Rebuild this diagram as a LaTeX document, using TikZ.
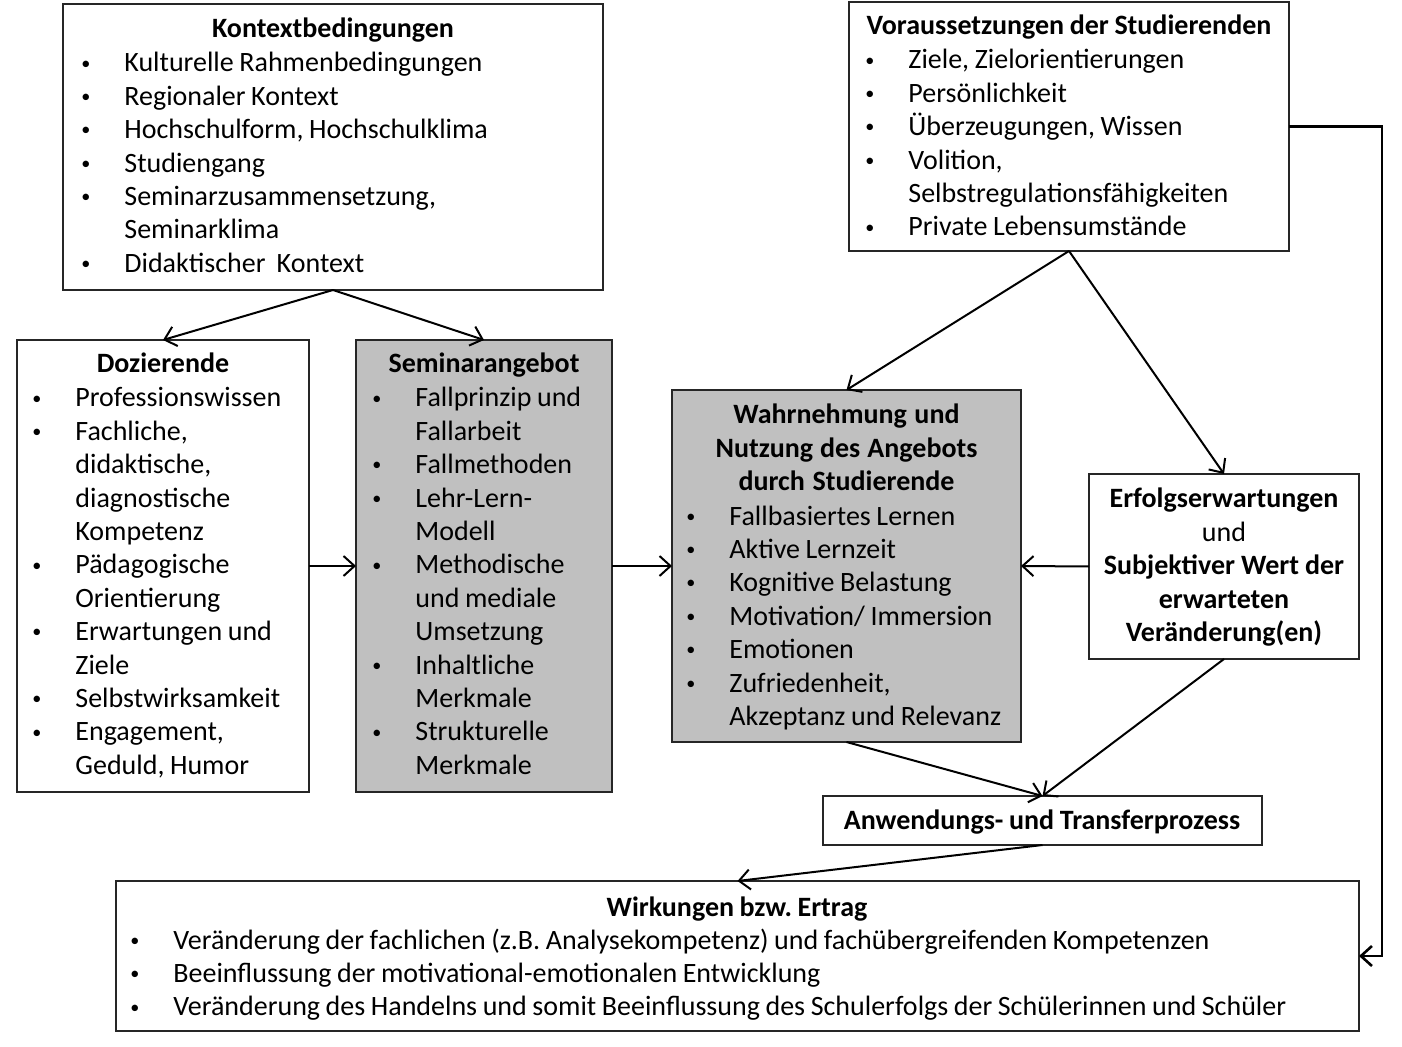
\documentclass[tikz,border=0pt]{standalone}
\usepackage{fontspec}
\setmainfont{Carlito}
\usetikzlibrary{arrows.meta}
\definecolor{boxgray}{RGB}{192,192,192}
\newcommand{\bodyfont}{\fontsize{14}{16.7}\selectfont}
\newcommand{\itm}{\makebox[21.5pt][l]{\raisebox{0.1em}{\scalebox{0.65}{\textbullet}}}}
\newcommand{\hng}{\hspace*{21.5pt}}
\tikzset{
	frame/.style={draw=black!85, line width=0.6pt, inner sep=0pt, outer sep=0pt, anchor=north west},
	shaded/.style={frame, fill=boxgray},
	title/.style={font=\bodyfont\bfseries, anchor=base, inner sep=0pt},
	items/.style={anchor=base west, inner sep=0pt, align=left, text width=300pt},
	link/.style={-{Straight Barb[length=5.5pt,width=10pt]}, line width=1pt},
}
\begin{document}
\begin{tikzpicture}[x=0.5pt, y=-0.5pt, font=\bodyfont,
		execute at begin node={\frenchspacing\spaceskip=2.8pt plus 1pt minus 0.5pt\relax}]
	\useasboundingbox (0,0) rectangle (1402,1047);
	% boxes
	\node[frame, minimum width=270pt, minimum height=143pt] (kontext) at (63,4) {};
	\node[frame, minimum width=220pt, minimum height=124.5pt] (vorauss) at (849,2) {};
	\node[frame, minimum width=146pt, minimum height=226pt] (dozier) at (17,340) {};
	\node[shaded, minimum width=128pt, minimum height=226pt] (seminar) at (356,340) {};
	\node[shaded, minimum width=174.5pt, minimum height=176pt] (wahrn) at (672,390) {};
	\node[frame, minimum width=135pt, minimum height=92.5pt] (erfolg) at (1089,474) {};
	\node[frame, minimum width=219.5pt, minimum height=24.5pt] (anwend) at (823,796) {};
	\node[frame, minimum width=621.5pt, minimum height=75pt] (wirk) at (116,881) {};

	% texts
	\node[title] (kontext-t) at (333,38) {Kontextbedingungen};
	\node[items] (kontext-l) at (81,72) {\itm Kulturelle Rahmenbedingungen\\ \itm Regionaler Kontext\\
		\itm Hochschulform, Hochschulklima\\ \itm Studiengang\\ \itm Seminarzusammensetzung,\\
		\hng Seminarklima\\ \itm Didaktischer\ \ Kontext};

	\node[title] (vorauss-t) at (1069,35) {Voraussetzungen der Studierenden};
	\node[items] (vorauss-l) at (865,69) {\itm Ziele, Zielorientierungen\\ \itm Persönlichkeit\\
		\itm Überzeugungen, Wissen\\ \itm Volition,\\ \hng Selbstregulationsfähigkeiten\\
		\itm Private Lebensumstände};

	\node[title] (dozier-t) at (163,373) {Dozierende};
	\node[items] (dozier-l) at (32,407) {\itm Professionswissen\\ \itm Fachliche,\\ \hng didaktische,\\
		\hng diagnostische\\ \hng Kompetenz\\ \itm Pädagogische\\ \hng Orientierung\\
		\itm Erwartungen und\\ \hng Ziele\\ \itm Selbstwirksamkeit\\ \itm Engagement,\\ \hng Geduld, Humor};

	\node[title] (seminar-t) at (484,373) {Seminarangebot};
	\node[items] (seminar-l) at (372,407) {\itm Fallprinzip und\\ \hng Fallarbeit\\ \itm Fallmethoden\\
		\itm Lehr-Lern-\\ \hng Modell\\ \itm Methodische\\ \hng und mediale\\ \hng Umsetzung\\
		\itm Inhaltliche\\ \hng Merkmale\\ \itm Strukturelle\\ \hng Merkmale};

	\node[title, align=center, text width=170pt] (wahrn-t) at (846.5,424) {Wahrnehmung und\\
		Nutzung des Angebots\\ durch Studierende};
	\node[items] (wahrn-l) at (686,525) {\itm Fallbasiertes Lernen\\ \itm Aktive Lernzeit\\
		\itm Kognitive Belastung\\ \itm Motivation/ Immersion\\ \itm Emotionen\\
		\itm Zufriedenheit,\\ \hng Akzeptanz und Relevanz};

	\node[anchor=base, inner sep=0pt, align=center, text width=130pt] (erfolg-t) at (1224,508)
		{\textbf{Erfolgserwartungen}\\ und\\ \textbf{Subjektiver Wert der}\\ \textbf{erwarteten}\\
		\textbf{Veränderung(en)}};

	\node[title] (anwend-t) at (1042,829) {Anwendungs- und Transferprozess};

	\node[title] (wirk-t) at (737,916) {Wirkungen bzw. Ertrag};
	\node[items, text width=600pt] (wirk-l) at (130,949)
		{\itm Veränderung der fachlichen (z.B. Analysekompetenz) und fachübergreifenden Kompetenzen\\
		\itm Beeinflussung der motivational-emotionalen Entwicklung\\
		\itm Veränderung des Handelns und somit Beeinflussung des Schulerfolgs der Schülerinnen und Schüler};

	% arrows
	\draw[link] (kontext.south) -- (dozier.north);
	\draw[link] (kontext.south) -- (seminar.north);
	\draw[link] (dozier.east) -- (seminar.west);
	\draw[link] (seminar.east) -- (wahrn.west);
	\draw[link] (erfolg.west) -- (wahrn.east);
	\draw[link] (vorauss.south) -- (wahrn.north);
	\draw[link] (vorauss.south) -- (erfolg.north);
	\draw[link] (wahrn.south) -- (anwend.north);
	\draw[link] (erfolg.south) -- (anwend.north);
	\draw[link] (anwend.south) -- (wirk.north);
	\coordinate (bend) at (1382,126.5);
	\draw[link, line width=1.3pt] (vorauss.east) -- (bend) |- (wirk.east);
\end{tikzpicture}
\end{document}
